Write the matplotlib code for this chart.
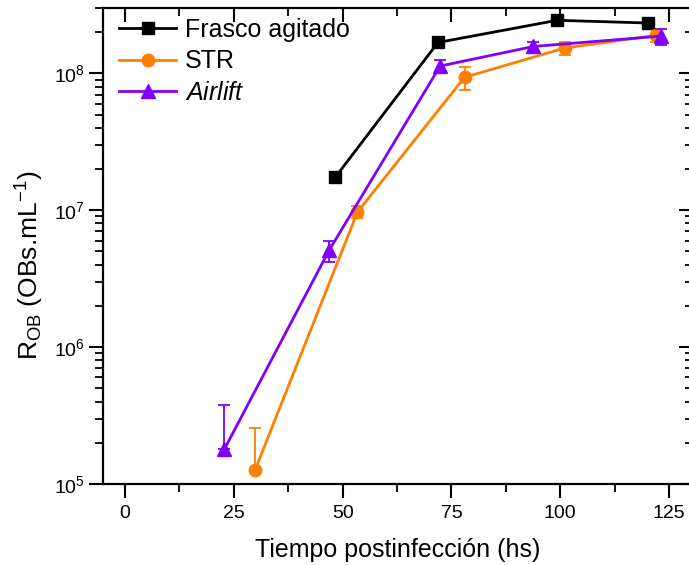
import matplotlib
matplotlib.use("Agg")
import matplotlib.pyplot as plt
from matplotlib.ticker import LogLocator, FixedLocator, NullFormatter, FuncFormatter
from matplotlib.lines import Line2D
import numpy as np

plt.rcParams['font.family'] = ['Liberation Sans', 'DejaVu Sans']
plt.rcParams['mathtext.fontset'] = 'custom'
plt.rcParams['mathtext.rm'] = 'Liberation Sans'
plt.rcParams['mathtext.it'] = 'Liberation Sans:italic'

# Frasco agitado
t_frasco = [48.3, 71.9, 99.3, 120.2]
r_frasco = [1.74e7, 1.68e8, 2.44e8, 2.33e8]
e_frasco = [1.6e6, 1.5e7, 2.2e7, 0.8e7]

# STR
t_str = [29.9, 53.4, 78.0, 101.0, 121.9]
r_str = [1.27e5, 9.7e6, 9.35e7, 1.53e8, 1.89e8]
e_str_lo = [0.0, 1.0e6, 1.8e7, 1.7e7, 2.0e7]
e_str_hi = [1.29e5, 1.0e6, 1.8e7, 1.7e7, 2.0e7]

# Airlift
t_air = [22.8, 46.9, 72.4, 93.8, 123.1]
r_air = [1.79e5, 5.1e6, 1.13e8, 1.57e8, 1.87e8]
e_air_lo = [0.0, 0.9e6, 1.2e7, 1.3e7, 2.5e7]
e_air_hi = [1.96e5, 0.9e6, 1.2e7, 1.3e7, 2.5e7]

x_ticks = [0, 25, 50, 75, 100, 125]

black = '#000000'
orange = '#FF8000'
purple = '#8000FF'

fig = plt.figure(figsize=(6.89, 5.65), dpi=100)
ax = fig.add_axes([103.3 / 689, 81 / 565, (693 - 103.3) / 689, 476 / 565])

ax.errorbar(t_frasco, r_frasco, yerr=e_frasco, color=black, lw=2,
            marker='s', ms=8, capsize=4, elinewidth=1.3, capthick=1.3, zorder=3)
ax.errorbar(t_str, r_str, yerr=[e_str_lo, e_str_hi], color=orange, lw=2,
            marker='o', ms=9, capsize=4, elinewidth=1.3, capthick=1.3, zorder=3)
ax.errorbar(t_air, r_air, yerr=[e_air_lo, e_air_hi], color=purple, lw=2,
            marker='^', ms=9.5, capsize=4, elinewidth=1.3, capthick=1.3, zorder=4)

ax.set_yscale('log')
ax.set_xlim(-5, 130.5)
ax.set_ylim(1e5, 3e8)

ax.xaxis.set_major_locator(FixedLocator(x_ticks))
ax.xaxis.set_minor_locator(FixedLocator([12.5, 37.5, 62.5, 87.5, 112.5]))
ax.yaxis.set_major_locator(LogLocator(base=10))
ax.yaxis.set_minor_locator(LogLocator(base=10, subs=np.arange(2, 10)))
ax.yaxis.set_minor_formatter(NullFormatter())
ax.yaxis.set_major_formatter(FuncFormatter(
    lambda v, p: r'$\mathregular{10^{%d}}$' % int(round(np.log10(v)))))

for s in ax.spines.values():
    s.set_linewidth(1.6)
ax.spines['right'].set_visible(False)

ax.tick_params(axis='both', which='major', labelsize=14, width=1.5, length=10)
ax.tick_params(axis='both', which='minor', width=1.3, length=6)
ax.tick_params(axis='x', which='both', direction='out', top=True, pad=5)
ax.tick_params(axis='y', which='both', direction='out', right=True, pad=3)
# inward ticks on the top and right edges
for t in ax.xaxis.get_major_ticks() + ax.xaxis.get_minor_ticks():
    t.tick2line.set_marker(3)
for t in ax.yaxis.get_major_ticks() + ax.yaxis.get_minor_ticks():
    t.tick2line.set_marker(0)

ax.set_xlabel('Tiempo postinfección (hs)', fontsize=18, labelpad=12)
ax.set_ylabel(r'$\mathregular{R_{OB}}$ (OBs.mL$\mathregular{^{-1}}$)', fontsize=19)
ax.yaxis.set_label_coords(-0.098, 0.46)

handles = [
    Line2D([], [], color=black, lw=2, marker='s', ms=8),
    Line2D([], [], color=orange, lw=2, marker='o', ms=9),
    Line2D([], [], color=purple, lw=2, marker='^', ms=9.5),
]
labels = ['Frasco agitado', 'STR', r'$\mathit{Airlift}$']
ax.legend(handles, labels, loc='upper left', frameon=False, fontsize=18,
          handlelength=2.3, handletextpad=0.35, labelspacing=0.3,
          borderaxespad=0, borderpad=0.2, bbox_to_anchor=(0.018, 0.99))

fig.savefig('out.png', dpi=100)
